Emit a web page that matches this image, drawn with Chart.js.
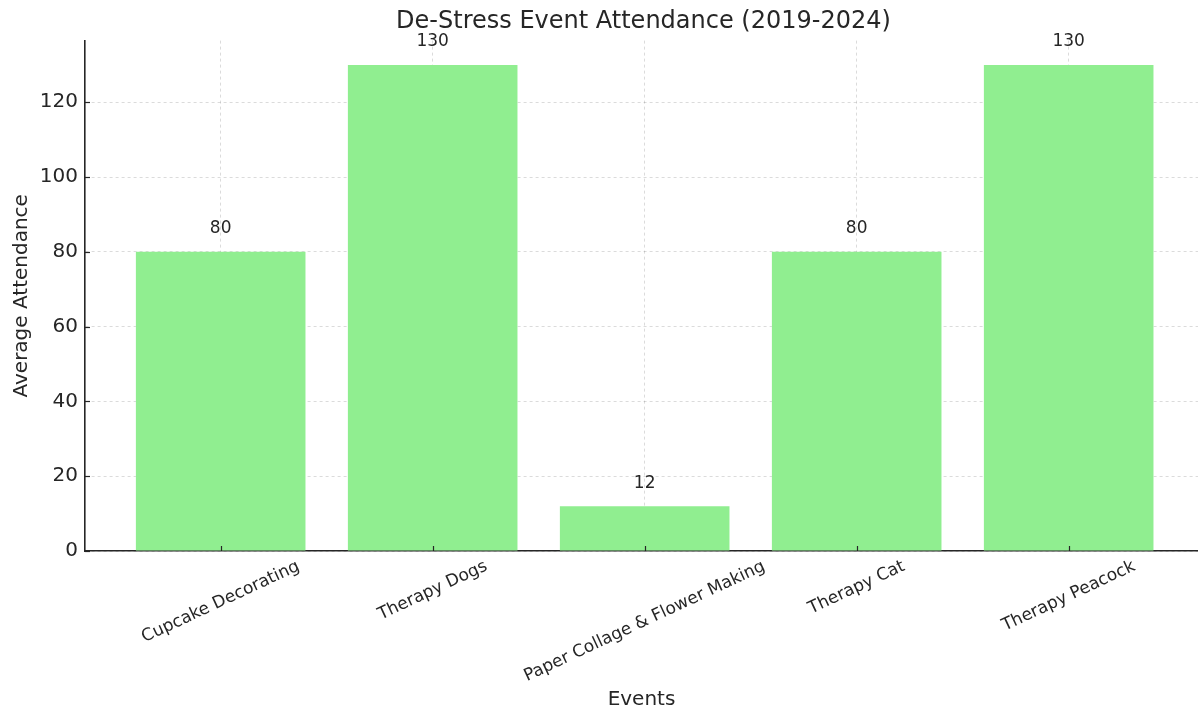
<!DOCTYPE html>
<html>
<head>
<meta charset="utf-8">
<script src="https://cdn.jsdelivr.net/npm/chart.js@4.4.1/dist/chart.umd.min.js"></script>
<style>
  html, body { margin: 0; padding: 0; background: #ffffff; }
  #wrap { width: 1198px; height: 710px; }
</style>
</head>
<body>
<div id="wrap"><canvas id="c" width="1198" height="710"></canvas></div>
<script>
const categories = ["Cupcake Decorating", "Therapy Dogs", "Paper Collage & Flower Making", "Therapy Cat", "Therapy Peacock"];
const attendance = [80, 130, 12, 80, 130];
const yTickValues = [0, 20, 40, 60, 80, 100, 120];
const chartTitle = "De-Stress Event Attendance (2019-2024)";
const xTitle = "Events";
const yTitle = "Average Attendance";

const FONT = "'DejaVu Sans', 'Liberation Sans', sans-serif";
const TEXT = "#262626";
const GRID = "rgba(0,0,0,0.14)";

const overlay = {
  id: 'overlay',
  afterDraw(chart) {
    const ctx = chart.ctx;
    const xs = chart.scales.x, ys = chart.scales.y;
    const area = chart.chartArea;
    ctx.save();
    // title centred over the plot area
    ctx.fillStyle = TEXT;
    ctx.font = "24px " + FONT;
    ctx.textAlign = 'center';
    ctx.textBaseline = 'middle';
    ctx.fillText(chartTitle, (area.left + area.right) / 2 + 2, 22);
    // inward tick marks
    ctx.strokeStyle = TEXT;
    ctx.lineWidth = 1.2;
    categories.forEach((c, i) => {
      const px = Math.round(xs.getPixelForValue(i)) + 0.5;
      ctx.beginPath(); ctx.moveTo(px, area.bottom); ctx.lineTo(px, area.bottom - 5); ctx.stroke();
    });
    yTickValues.forEach(v => {
      const py = Math.round(ys.getPixelForValue(v)) + 0.5;
      ctx.beginPath(); ctx.moveTo(area.left, py); ctx.lineTo(area.left + 5, py); ctx.stroke();
    });
    // value labels
    const meta = chart.getDatasetMeta(0);
    ctx.font = "17px " + FONT;
    meta.data.forEach((bar, i) => {
      ctx.fillText(String(attendance[i]), bar.x, bar.y - 23);
    });
    // rotated category labels, centred under each tick
    const ang = 25 * Math.PI / 180;
    ctx.font = "17px " + FONT;
    categories.forEach((c, i) => {
      const w = ctx.measureText(c).width;
      const h = 19;
      const H = w * Math.sin(ang) + h * Math.cos(ang);
      const cx = xs.getPixelForValue(i);
      const cy = area.bottom + 6 + H / 2;
      ctx.save();
      ctx.translate(cx, cy);
      ctx.rotate(-ang);
      ctx.textAlign = 'center';
      ctx.textBaseline = 'middle';
      ctx.fillText(c, 0, 0);
      ctx.restore();
    });
    ctx.restore();
  }
};

new Chart(document.getElementById('c'), {
  type: 'bar',
  data: {
    datasets: [{
      label: yTitle,
      data: attendance.map((v, i) => ({ x: i, y: v })),
      backgroundColor: '#90EE90',
      borderWidth: 0,
      barPercentage: 0.8,
      categoryPercentage: 1.0
    }]
  },
  options: {
    responsive: false,
    animation: false,
    devicePixelRatio: 1,
    layout: { padding: { top: 40.6, left: 0, right: 0, bottom: 0 } },
    plugins: {
      legend: { display: false },
      tooltip: { enabled: false },
      title: { display: false }
    },
    scales: {
      x: {
        type: 'linear',
        min: -0.64,
        max: 4.61,
        offset: false,
        z: 1,
        afterBuildTicks: s => { s.ticks = categories.map((c, i) => ({ value: i })); },
        afterFit: s => { s.height = 159; },
        ticks: { display: false },
        grid: { color: GRID, lineWidth: 1, drawTicks: false, offset: false },
        border: { display: true, color: TEXT, width: 1.6, dash: [3, 3] },
        title: {
          display: true, text: xTitle, color: TEXT,
          font: { family: FONT, size: 20 }, padding: { top: 0, bottom: -2 }
        }
      },
      y: {
        type: 'linear',
        min: 0,
        max: 136.5,
        afterBuildTicks: s => { s.ticks = yTickValues.map(v => ({ value: v })); },
        afterFit: s => { s.width = 85; },
        ticks: {
          color: TEXT, padding: 7,
          font: { family: FONT, size: 20 }
        },
        grid: { color: GRID, lineWidth: 1, drawTicks: false },
        border: { display: true, color: TEXT, width: 1.6, dash: [3, 3] },
        title: {
          display: true, text: yTitle, color: TEXT,
          font: { family: FONT, size: 20 }, padding: { top: 10, bottom: 0 }
        }
      }
    }
  },
  plugins: [overlay]
});
</script>
</body>
</html>
